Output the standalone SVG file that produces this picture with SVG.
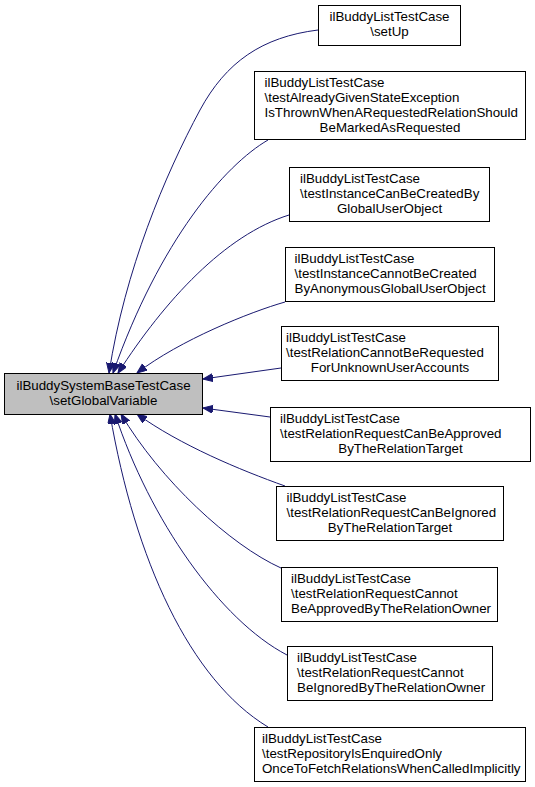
<svg xmlns="http://www.w3.org/2000/svg" width="535" height="787" viewBox="0 0 535 787">
<defs>
<style>
.node rect{fill:#ffffff;stroke:#000000;stroke-width:1}
.node.main rect{fill:#bfbfbf}
text{font-family:"Liberation Sans",Arial,Helvetica,sans-serif;font-size:13.33px;fill:#000000}
.c{text-anchor:middle}
.edges path{fill:none;stroke:#191970;stroke-width:1;marker-end:url(#arrow)}
</style>
<marker id="arrow" markerUnits="userSpaceOnUse" markerWidth="12" markerHeight="10" refX="10" refY="4" orient="auto" viewBox="0 0 12 10">
<path d="M0,0 L10,4 L0,8 z" fill="#191970" stroke="#191970" stroke-width="1"/>
</marker>
</defs>
<rect width="535" height="787" fill="#ffffff"/>
<g class="edges" id="edges">
<path d="M318,30 C262,37 226,62 200,110 C165,175 125,270 109,373"/>
<path d="M268,140 C225,165 160,240 113,373"/>
<path d="M289,215 C225,235 165,300 118,373"/>
<path d="M285,302 C250,312 180,340 137,373"/>
<path d="M281,368 L203,379"/>
<path d="M270,417 L203,408"/>
<path d="M285,486 C240,470 180,445 137,414"/>
<path d="M281,568 C230,545 160,480 121,414"/>
<path d="M287,655 C220,620 150,520 115,414"/>
<path d="M268,727 C190,680 135,560 110,414"/>
</g>
<g class="node main" id="node_main">
<rect x="4.5" y="373.5" width="198" height="41"/>
<text class="c" x="103.5" y="389.5">ilBuddySystemBaseTestCase</text>
<text class="c" x="103.5" y="404.5">\setGlobalVariable</text>
</g>
<g class="node" id="node_setUp">
<rect x="318.5" y="5.5" width="142" height="40"/>
<text class="c" x="389.5" y="21">ilBuddyListTestCase</text>
<text class="c" x="389.5" y="36">\setUp</text>
</g>
<g class="node" id="node_testAlreadyGiven">
<rect x="254.5" y="71.5" width="271" height="68"/>
<text x="264.5" y="87">ilBuddyListTestCase</text>
<text x="264.5" y="102">\testAlreadyGivenStateException</text>
<text x="264.5" y="117">IsThrownWhenARequestedRelationShould</text>
<text class="c" x="390" y="132">BeMarkedAsRequested</text>
</g>
<g class="node" id="node_testInstanceCan">
<rect x="289.5" y="167.5" width="200" height="54"/>
<text x="300" y="182.5">ilBuddyListTestCase</text>
<text x="300" y="197.5">\testInstanceCanBeCreatedBy</text>
<text class="c" x="389.5" y="212.5">GlobalUserObject</text>
</g>
<g class="node" id="node_testInstanceCannot">
<rect x="285.5" y="247.5" width="209" height="54"/>
<text x="294.5" y="262.5">ilBuddyListTestCase</text>
<text x="294.5" y="277.5">\testInstanceCannotBeCreated</text>
<text x="294.5" y="292.5">ByAnonymousGlobalUserObject</text>
</g>
<g class="node" id="node_testRelationCannotBeRequested">
<rect x="281.5" y="326.5" width="217" height="54"/>
<text x="286" y="341.5">ilBuddyListTestCase</text>
<text x="286" y="356.5">\testRelationCannotBeRequested</text>
<text class="c" x="390" y="371.5">ForUnknownUserAccounts</text>
</g>
<g class="node" id="node_testRequestCanBeApproved">
<rect x="270.5" y="407.5" width="260" height="54"/>
<text x="280" y="422.5">ilBuddyListTestCase</text>
<text x="280" y="437.5">\testRelationRequestCanBeApproved</text>
<text class="c" x="400.5" y="452.5">ByTheRelationTarget</text>
</g>
<g class="node" id="node_testRequestCanBeIgnored">
<rect x="276.5" y="486.5" width="227" height="54"/>
<text x="286.5" y="501.5">ilBuddyListTestCase</text>
<text x="286.5" y="516.5">\testRelationRequestCanBeIgnored</text>
<text class="c" x="390" y="531.5">ByTheRelationTarget</text>
</g>
<g class="node" id="node_testRequestCannotBeApproved">
<rect x="281.5" y="567.5" width="216" height="54"/>
<text x="291" y="582.5">ilBuddyListTestCase</text>
<text x="291" y="597.5">\testRelationRequestCannot</text>
<text x="291" y="612.5">BeApprovedByTheRelationOwner</text>
</g>
<g class="node" id="node_testRequestCannotBeIgnored">
<rect x="287.5" y="646.5" width="205" height="54"/>
<text x="297" y="661.5">ilBuddyListTestCase</text>
<text x="297" y="676.5">\testRelationRequestCannot</text>
<text x="297" y="691.5">BeIgnoredByTheRelationOwner</text>
</g>
<g class="node" id="node_testRepository">
<rect x="254.5" y="727.5" width="271" height="54"/>
<text x="262" y="742.5">ilBuddyListTestCase</text>
<text x="262" y="757.5">\testRepositoryIsEnquiredOnly</text>
<text x="262" y="772.5">OnceToFetchRelationsWhenCalledImplicitly</text>
</g>
</svg>
